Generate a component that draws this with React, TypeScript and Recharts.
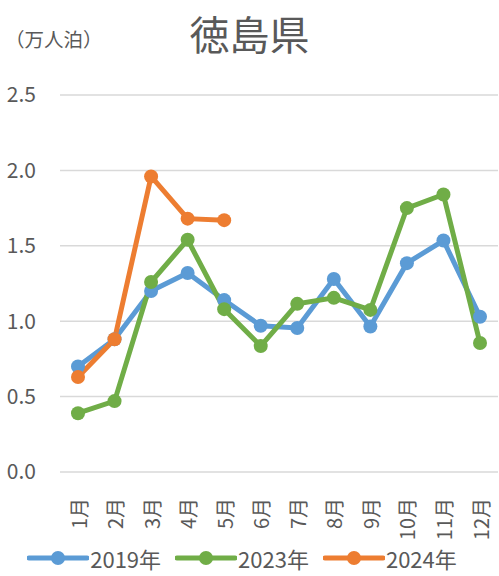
import { LineChart, Line, XAxis, YAxis, CartesianGrid, Legend } from 'recharts';

const months = ['1月', '2月', '3月', '4月', '5月', '6月', '7月', '8月', '9月', '10月', '11月', '12月'];
const v2019 = [0.70, 0.88, 1.20, 1.32, 1.14, 0.97, 0.955, 1.28, 0.965, 1.385, 1.535, 1.03];
const v2023 = [0.39, 0.47, 1.26, 1.54, 1.08, 0.835, 1.115, 1.155, 1.075, 1.75, 1.84, 0.855];
const v2024 = [0.63, 0.88, 1.96, 1.68, 1.67, null, null, null, null, null, null, null];
const yTicks = [0, 0.5, 1.0, 1.5, 2.0, 2.5];

const seriesList = [
  { key: 'y2019', name: '2019年', color: '#5B9BD5' },
  { key: 'y2023', name: '2023年', color: '#70AD47' },
  { key: 'y2024', name: '2024年', color: '#ED7D31' },
];

const data = months.map((m, i) => ({ month: m, y2019: v2019[i], y2023: v2023[i], y2024: v2024[i] }));

const FONT = '"Noto Sans CJK JP", "Noto Sans", sans-serif';
const TEXT = '#595959';

function MonthTick(props: any) {
  const { x, y, payload } = props;
  return (
    <text
      x={x}
      y={y}
      transform={`rotate(-90, ${x}, ${y})`}
      textAnchor="end"
      dominantBaseline="central"
      fill={TEXT}
      fontSize={20}
      fontFamily={FONT}
    >
      {payload.value}
    </text>
  );
}

function LegendContent() {
  return (
    <div style={{ display: 'flex', justifyContent: 'center', alignItems: 'center', height: 30, fontFamily: FONT, color: TEXT, fontSize: 22 }}>
      {seriesList.map((s) => (
        <div key={s.key} style={{ display: 'flex', alignItems: 'center', marginRight: 14 }}>
          <svg width={62} height={16}>
            <line x1={2} y1={8} x2={60} y2={8} stroke={s.color} strokeWidth={5} strokeLinecap="round" />
            <circle cx={31} cy={8} r={7} fill={s.color} />
          </svg>
          <span style={{ marginLeft: 1 }}>{s.name}</span>
        </div>
      ))}
    </div>
  );
}

export default function App() {
  return (
    <div style={{ position: 'absolute', left: 0, top: 0, width: 499, height: 576, background: '#fff' }}>
      <div style={{ position: 'absolute', left: 5, top: 25, fontFamily: FONT, fontSize: 19.5, color: TEXT, lineHeight: '28px' }}>
        （万人泊）
      </div>
      <div style={{ position: 'absolute', left: 0, width: 499, top: 8, textAlign: 'center', fontFamily: FONT, fontSize: 40, color: TEXT, lineHeight: '50px' }}>
        徳島県
      </div>
      <LineChart width={499} height={576} data={data} margin={{ top: 95, right: 1, left: 0, bottom: 3 }}>
        <CartesianGrid vertical={false} stroke="#D9D9D9" strokeWidth={1.5} />
        <XAxis
          dataKey="month"
          padding={{ left: 18, right: 18 }}
          axisLine={false}
          tickLine={false}
          height={71}
          interval={0}
          tick={<MonthTick />}
          tickMargin={20}
        />
        <YAxis
          domain={[0, 2.5]}
          ticks={yTicks}
          width={60}
          axisLine={false}
          tickLine={false}
          tickMargin={18}
          tickFormatter={(v: number) => v.toFixed(1)}
          tick={{ fill: TEXT, fontSize: 21, fontFamily: FONT }}
        />
        <Legend verticalAlign="bottom" height={30} content={<LegendContent />} />
        {seriesList.map((s) => (
          <Line
            key={s.key}
            type="linear"
            dataKey={s.key}
            name={s.name}
            stroke={s.color}
            strokeWidth={5}
            dot={{ r: 7, fill: s.color, stroke: s.color, strokeWidth: 0 }}
            activeDot={false}
            isAnimationActive={false}
          />
        ))}
      </LineChart>
    </div>
  );
}
